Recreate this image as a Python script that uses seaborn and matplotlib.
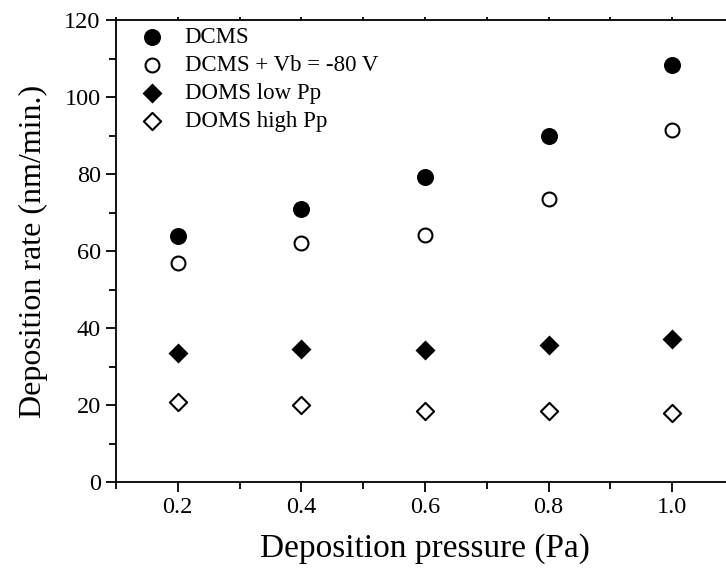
import matplotlib
matplotlib.use("Agg")
import matplotlib.pyplot as plt
from matplotlib.ticker import MultipleLocator
import numpy as np
import pandas as pd
import seaborn as sns

pressure = [0.2, 0.4, 0.6, 0.8, 1.0]
dcms = [64.0, 70.8, 79.3, 90.0, 108.3]
dcms_bias = [57.0, 62.2, 64.2, 73.5, 91.4]
doms_low = [33.4, 34.5, 34.3, 35.6, 37.1]
doms_high = [20.7, 19.9, 18.5, 18.5, 17.8]
labels = ["DCMS", "DCMS + Vb = -80 V", "DOMS low Pp", "DOMS high Pp"]
xtick_labels = ["0.2", "0.4", "0.6", "0.8", "1.0"]
ytick_values = [0, 20, 40, 60, 80, 100, 120]

sns.set_theme(style="ticks")
plt.rcParams["font.family"] = ["Liberation Serif", "DejaVu Serif"]

W, H = 726, 568
fig = plt.figure(figsize=(W / 100, H / 100), dpi=100)
left, right, top, bottom = 116, 734, 20, 482
ax = fig.add_axes([left / W, 1 - bottom / H, (right - left) / W, (bottom - top) / H])

series = [
    (dcms, "o", "black", 150, 0.0),
    (dcms_bias, "o", "white", 100, 1.5),
    (doms_low, "D", "black", 104, 0.0),
    (doms_high, "D", "white", 77, 1.5),
]
for (vals, mk, fc, s, lw), lab in zip(series, labels):
    df = pd.DataFrame({"p": pressure, "r": vals})
    sns.scatterplot(data=df, x="p", y="r", ax=ax, marker=mk, s=s,
                    color="black", facecolor=fc, edgecolor="black",
                    linewidth=lw, label=lab, zorder=3)

ax.set_xlim(0.1, 1.1)
ax.set_ylim(0, 120)
ax.set_xticks(pressure)
ax.set_xticklabels(xtick_labels)
ax.xaxis.set_minor_locator(MultipleLocator(0.1))
ax.set_yticks(ytick_values)
ax.yaxis.set_minor_locator(MultipleLocator(10))

for sp in ["left", "bottom", "top"]:
    ax.spines[sp].set_linewidth(1.3)
    ax.spines[sp].set_color("black")
ax.spines["right"].set_visible(False)

ax.tick_params(axis="both", which="major", direction="out", length=7,
               width=1.3, labelsize=17.5, pad=4, colors="black")
ax.tick_params(axis="both", which="minor", direction="out", length=5,
               width=1.3, colors="black")
ax.tick_params(axis="x", which="both", top=True, labeltop=False)
for tl in ax.xaxis.get_majorticklines()[1::2] + ax.xaxis.get_minorticklines()[1::2]:
    tl.set_markersize(2)

ax.set_xlabel("Deposition pressure (Pa)", fontsize=24, labelpad=11, color="black")
ax.set_ylabel("Deposition rate (nm/min.)", fontsize=23, labelpad=12, color="black")

leg = ax.legend(loc="upper left", bbox_to_anchor=(141 / W, 1 - 27 / H),
                bbox_transform=fig.transFigure, frameon=False, fontsize=16.5,
                handlelength=1.0, handletextpad=0.9, labelspacing=0.3,
                borderpad=0, borderaxespad=0)
for t in leg.get_texts():
    t.set_color("black")

fig.savefig("out.png", dpi=100)
